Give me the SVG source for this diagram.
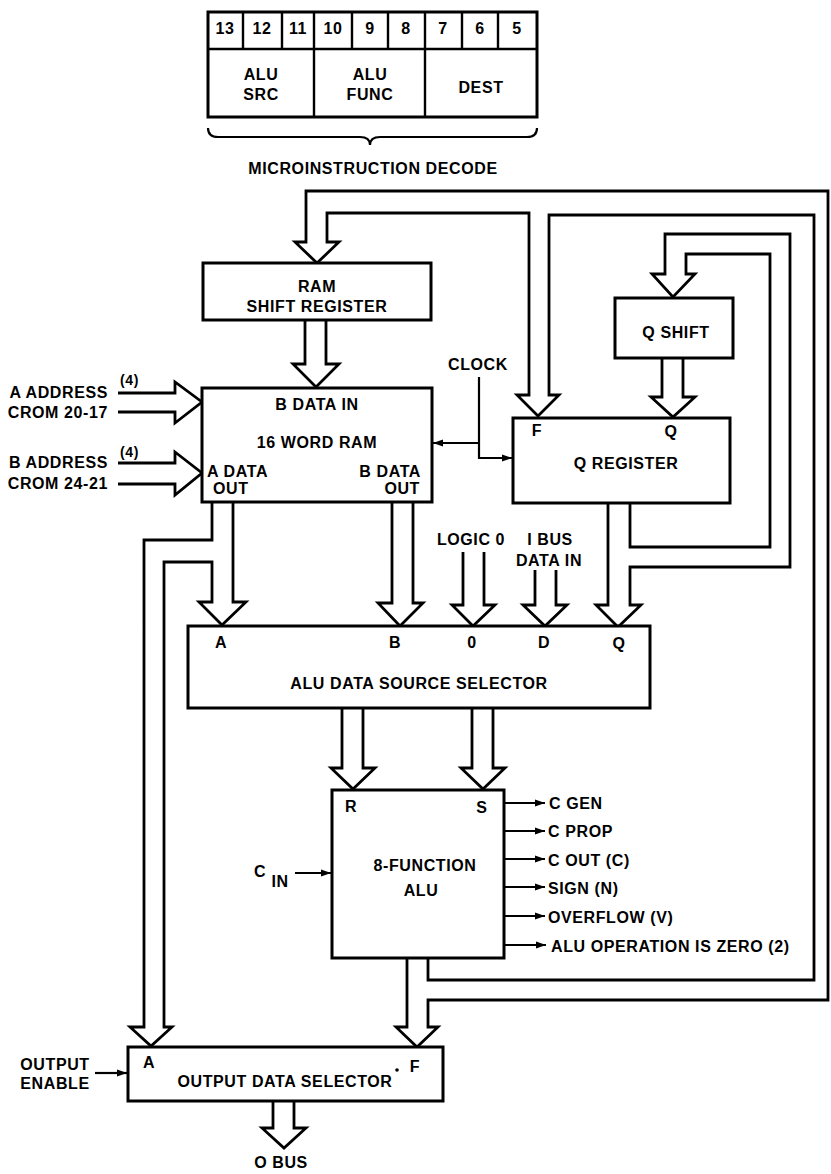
<svg xmlns="http://www.w3.org/2000/svg" width="831" height="1174" viewBox="0 0 831 1174">
<style>
  .box { fill: #fff; stroke: #000; stroke-width: 3; }
  .bus { fill: #fff; stroke: #000; stroke-width: 2.8; stroke-linejoin: miter; }
  .sig { fill: none; stroke: #000; stroke-width: 2.2; }
  .thin { fill: none; stroke: #000; stroke-width: 2.4; }
  text { font-family: "Liberation Sans", Arial, Helvetica, sans-serif; font-weight: bold; font-size: 16px; letter-spacing: 0.6px; fill: #000; }
  .m { text-anchor: middle; }
  .e { text-anchor: end; }
  .s { font-size: 14px; }
</style>
<defs>
  <marker id="ah" markerWidth="11" markerHeight="8" refX="10" refY="4" orient="auto" markerUnits="userSpaceOnUse">
    <path d="M0,0.5 L10,4 L0,7.5 Z" fill="#000"/>
  </marker>
</defs>
<rect width="831" height="1174" fill="#fff"/>

<!-- Microinstruction field -->
<g id="field">
  <rect class="box" x="208" y="12" width="329" height="105"/>
  <path class="thin" d="M208 49 H537 M243 12 V49 M282 12 V49 M314 12 V117 M352 12 V49 M388 12 V49 M425 12 V117 M462 12 V49 M498 12 V49"/>
  <text class="m" x="225" y="34">13</text>
  <text class="m" x="262" y="34">12</text>
  <text class="m" x="298" y="34">11</text>
  <text class="m" x="333" y="34">10</text>
  <text class="m" x="370" y="34">9</text>
  <text class="m" x="406" y="34">8</text>
  <text class="m" x="443" y="34">7</text>
  <text class="m" x="480" y="34">6</text>
  <text class="m" x="517" y="34">5</text>
  <text class="m" x="261" y="80">ALU</text>
  <text class="m" x="261" y="100">SRC</text>
  <text class="m" x="370" y="80">ALU</text>
  <text class="m" x="370" y="100">FUNC</text>
  <text class="m" x="481" y="93">DEST</text>
  <path class="sig" d="M208 128 Q208 137 218 137 L360 137 Q370 137 370 145 Q370 137 380 137 L527 137 Q537 137 537 128"/>
  <text class="m" x="373" y="174">MICROINSTRUCTION DECODE</text>
</g>

<!-- Connectors -->
<g id="connectors">
  <!-- F bus from ALU -->
  <path class="bus" d="M407 958 L407 1027 L396 1027 L417 1047 L438 1027 L428 1027 L428 1000 L828 1000 L828 191 L306 191 L306 242 L295 242 L317 263 L339 242 L327 242 L327 213 L529 213 L529 395 L517 395 L538 416 L559 395 L549 395 L549 215 L814 215 L814 980 L428 980 L428 958"/>
  <!-- Q bus -->
  <path class="bus" d="M608 503 L608 605 L596 605 L618 627 L641 605 L630 605 L630 567 L790 567 L790 234 L665 234 L665 274 L652 274 L673 297 L695 274 L686 274 L686 254 L770 254 L770 547 L630 547 L630 503"/>
  <!-- Q shift to Q register -->
  <path class="bus" d="M662 358 L662 397 L651 397 L673 417 L695 397 L683 397 L683 358"/>
  <!-- RAM shift register to RAM -->
  <path class="bus" d="M305 320 L305 364 L293 364 L316 387 L339 364 L326 364 L326 320"/>
  <!-- A data out bus -->
  <path class="bus" d="M212 502 L212 540 L144 540 L144 1027 L130 1027 L151 1046 L172 1027 L164 1027 L164 562 L212 562 L212 602 L199 602 L222 625 L246 602 L233 602 L233 502"/>
  <!-- B data out bus -->
  <path class="bus" d="M392 502 L392 603 L378 603 L400 626 L423 603 L413 603 L413 502"/>
  <!-- Logic 0 -->
  <path class="bus" d="M463 552 L463 605 L452 605 L473 626 L495 605 L484 605 L484 552"/>
  <!-- I bus data in -->
  <path class="bus" d="M535 570 L535 605 L523 605 L545 626 L567 605 L556 605 L556 570"/>
  <!-- R and S -->
  <path class="bus" d="M342 708 L342 768 L331 768 L353 789 L375 768 L363 768 L363 708"/>
  <path class="bus" d="M472 708 L472 768 L461 768 L483 789 L505 768 L493 768 L493 708"/>
  <!-- O bus -->
  <path class="bus" d="M273 1101 L273 1128 L262 1128 L284 1148 L306 1128 L294 1128 L294 1101"/>
  <!-- address inputs -->
  <path class="bus" d="M118 393 L175 393 L175 382 L202 402 L175 423 L175 412 L118 412"/>
  <path class="bus" d="M118 463 L175 463 L175 452 L202 473 L175 495 L175 484 L118 484"/>
  <!-- clock -->
  <path class="sig" d="M479 377 L479 458 L512 458" marker-end="url(#ah)"/>
  <path class="sig" d="M479 443 L433 443" marker-end="url(#ah)"/>
  <!-- C in, output enable -->
  <path class="sig" d="M295 873 L331 873" marker-end="url(#ah)"/>
  <path class="sig" d="M95 1073 L127 1073" marker-end="url(#ah)"/>
  <!-- ALU status outputs -->
  <path class="sig" d="M504 803 L545 803" marker-end="url(#ah)"/>
  <path class="sig" d="M504 831 L545 831" marker-end="url(#ah)"/>
  <path class="sig" d="M504 859 L545 859" marker-end="url(#ah)"/>
  <path class="sig" d="M504 887 L545 887" marker-end="url(#ah)"/>
  <path class="sig" d="M504 916 L545 916" marker-end="url(#ah)"/>
  <path class="sig" d="M504 945 L546 945" marker-end="url(#ah)"/>
</g>

<!-- Nodes -->
<g id="ram-shift">
  <rect class="box" x="203" y="263" width="228" height="57"/>
  <text class="m" x="317" y="292">RAM</text>
  <text class="m" x="317" y="312">SHIFT REGISTER</text>
</g>

<g id="ram">
  <rect class="box" x="202" y="388" width="230" height="114"/>
  <text class="m" x="317" y="410">B DATA IN</text>
  <text class="m" x="317" y="448">16 WORD RAM</text>
  <text x="207" y="477">A DATA</text>
  <text x="213" y="494">OUT</text>
  <text class="e" x="421" y="477">B DATA</text>
  <text class="e" x="420" y="494">OUT</text>
</g>

<g id="addr-labels">
  <text class="s" x="120" y="385">(4)</text>
  <text class="e" x="108" y="398">A ADDRESS</text>
  <text class="e" x="108" y="418">CROM 20-17</text>
  <text class="s" x="120" y="457">(4)</text>
  <text class="e" x="108" y="468">B ADDRESS</text>
  <text class="e" x="108" y="489">CROM 24-21</text>
  <text class="m" x="478" y="370">CLOCK</text>
</g>

<g id="q-shift">
  <rect class="box" x="615" y="298" width="118" height="60"/>
  <text class="m" x="676" y="338">Q SHIFT</text>
</g>

<g id="q-register">
  <rect class="box" x="513" y="418" width="217" height="85"/>
  <text class="m" x="537" y="436">F</text>
  <text class="m" x="671" y="437">Q</text>
  <text class="m" x="626" y="469">Q REGISTER</text>
</g>

<g id="inputs">
  <text class="m" x="471" y="545">LOGIC 0</text>
  <text class="m" x="550" y="545">I BUS</text>
  <text class="m" x="549" y="566">DATA IN</text>
</g>

<g id="alu-src-sel">
  <rect class="box" x="188" y="626" width="462" height="82"/>
  <text class="m" x="221" y="648">A</text>
  <text class="m" x="395" y="648">B</text>
  <text class="m" x="472" y="648">0</text>
  <text class="m" x="544" y="648">D</text>
  <text class="m" x="619" y="649">Q</text>
  <text class="m" x="419" y="689">ALU DATA SOURCE SELECTOR</text>
</g>

<g id="alu">
  <rect class="box" x="332" y="790" width="172" height="168"/>
  <text class="m" x="351" y="812">R</text>
  <text class="m" x="482" y="813">S</text>
  <text class="m" x="425" y="871">8-FUNCTION</text>
  <text class="m" x="421" y="896">ALU</text>
  <text class="m" x="260" y="877">C</text>
  <text class="m" x="280" y="887">IN</text>
  <text x="549" y="809">C GEN</text>
  <text x="548" y="837">C PROP</text>
  <text x="548" y="866">C OUT (C)</text>
  <text x="548" y="894">SIGN (N)</text>
  <text x="548" y="923">OVERFLOW (V)</text>
  <text x="551" y="952">ALU OPERATION IS ZERO (2)</text>
</g>

<g id="out-sel">
  <rect class="box" x="128" y="1047" width="315" height="54"/>
  <text class="m" x="149" y="1068">A</text>
  <text class="m" x="415" y="1072">F</text>
  <text class="m" x="285" y="1087">OUTPUT DATA SELECTOR</text>
  <circle cx="397" cy="1070" r="1.8" fill="#000"/>
  <text class="m" x="55" y="1070">OUTPUT</text>
  <text class="m" x="55" y="1089">ENABLE</text>
  <text class="m" x="281" y="1168">O BUS</text>
</g>
</svg>
